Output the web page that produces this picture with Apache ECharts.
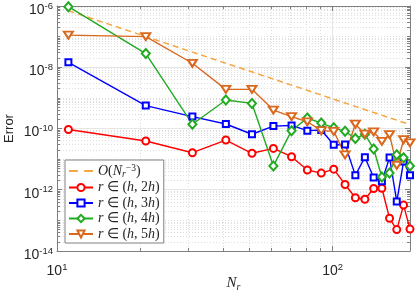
<!DOCTYPE html>
<html><head><meta charset="utf-8">
<script src="https://cdn.jsdelivr.net/npm/echarts@6/dist/echarts.min.js"></script>
<style>html,body{margin:0;padding:0;background:#fff}#c{width:416px;height:291px}</style>
</head><body><div id="c"></div>
<script>
// ---- data ----
const Nr = [11,21,31,41,51,61,71,81,91,101,111,121,131,141,151,161,171,181,191];
const err2h = [9.3e-11,3.9e-11,1.62e-11,4.2e-11,1.55e-11,2.24e-11,1.2e-11,4.4e-12,3.5e-12,4.7e-12,1.48e-12,5.5e-13,4.9e-13,1.1e-12,1.12e-12,1.17e-13,5.0e-14,3.16e-13,5.2e-14];
const err3h = [1.45e-8,5.6e-10,2.45e-10,1.4e-10,6.5e-11,1.2e-10,1.26e-10,8.5e-11,8.9e-11,2.95e-11,3.0e-11,2.95e-12,1.15e-11,2.5e-12,1.9e-12,1.12e-11,4.1e-13,8.3e-12,3.0e-12];
const err4h = [9.5e-7,2.8e-8,1.38e-10,8.5e-10,6.6e-10,6.0e-12,8.5e-11,2.2e-10,1.5e-10,1.05e-10,8.1e-11,4.7e-11,6.5e-11,2.15e-11,2.6e-12,3.55e-12,1.4e-11,1.1e-11,6.0e-12];
const err5h = [1.12e-7,1.0e-7,1.35e-8,1.9e-9,1.9e-9,4.0e-10,2.45e-10,1.66e-10,8.5e-11,8.1e-11,1.38e-11,1.38e-10,6.6e-11,7.8e-11,3.8e-11,6.3e-11,6.3e-12,4.3e-11,3.4e-11];
const refN = [11, 191];
const refErr = [7.0e-7, 1.34e-10];
const xTickLabels = [10, 100];
const yTickLabels = [1e-14, 1e-12, 1e-10, 1e-8, 1e-6];

// ---- tick / grid positions ----
const xMinor = [20,30,40,50,60,70,80,90];
const yMinor = [];
for (let e = -14; e < -6; e++) {
  for (let m = 1; m <= 9; m++) {
    const v = m * Math.pow(10, e);
    if (m === 1 && e % 2 === 0) continue;
    yMinor.push(v);
  }
}

const AX = '#7f7f7f', TXT = '#262626';
const supRich = {
  b: {fontFamily: 'Liberation Sans', fontSize: 14, lineHeight: 18, color: TXT},
  s: {fontFamily: 'Liberation Sans', fontSize: 9.5, lineHeight: 10, verticalAlign: 'top', color: TXT}
};
function powFmt(v) { return '{b|10}{s|' + Math.round(Math.log10(v)) + '}'; }

function xAx(pos, ticks, len, label, line, split) {
  return {
    type: 'log', logBase: 10, min: 10, max: 191, position: pos,
    axisLine: {show: line, lineStyle: {color: AX, width: 1}},
    axisTick: {show: true, inside: true, length: len, customValues: ticks, lineStyle: {color: AX, width: 1}},
    axisLabel: label ? {show: true, customValues: ticks, formatter: powFmt, rich: supRich, margin: 11,
      alignMinLabel: 'center', alignMaxLabel: 'center'} : {show: false},
    splitLine: split ? {show: true, lineStyle: split} : {show: false},
    minorTick: {show: false}, minorSplitLine: {show: false}
  };
}
function yAx(pos, ticks, len, label, line, split) {
  return {
    type: 'log', logBase: 10, min: 1e-14, max: 1e-6, position: pos,
    axisLine: {show: line, lineStyle: {color: AX, width: 1}},
    axisTick: {show: true, inside: true, length: len, customValues: ticks, lineStyle: {color: AX, width: 1}},
    axisLabel: label ? {show: true, customValues: ticks, formatter: powFmt, rich: supRich, margin: 4, padding: [8,0,0,0],
      verticalAlignMinLabel: 'middle', verticalAlignMaxLabel: 'middle'} : {show: false},
    splitLine: split ? {show: true, lineStyle: split} : {show: false},
    minorTick: {show: false}, minorSplitLine: {show: false}
  };
}
const majorGrid = {color: '#e6e6e6', width: 1, type: 'solid'};
const minorGrid = {color: '#dedede', width: 1, type: [1, 2]};

const xAxes = [
  xAx('bottom', xTickLabels, 5, true, true, majorGrid),
  xAx('bottom', xMinor, 3, false, false, minorGrid),
  xAx('top', xTickLabels, 5, false, true, null),
  xAx('top', xMinor, 3, false, false, null)
];
xAxes[0].name = '{i|N}{sub|r}';
xAxes[0].nameLocation = 'middle';
xAxes[0].nameGap = 23;
xAxes[0].nameMoveOverlap = false;
xAxes[0].nameTextStyle = {rich: {
  i: {fontFamily: 'Liberation Serif', fontStyle: 'italic', fontSize: 15, lineHeight: 18, color: TXT},
  sub: {fontFamily: 'Liberation Serif', fontStyle: 'italic', fontSize: 10, lineHeight: 10, verticalAlign: 'bottom', color: TXT}
}};
const yAxes = [
  yAx('left', yTickLabels, 5, true, true, majorGrid),
  yAx('left', yMinor, 3, false, false, minorGrid),
  yAx('right', yTickLabels, 5, false, true, null),
  yAx('right', yMinor, 3, false, false, null)
];
yAxes[0].name = 'Error';
yAxes[0].nameLocation = 'middle';
yAxes[0].nameGap = 41;
yAxes[0].nameMoveOverlap = false;
yAxes[0].nameTextStyle = {fontFamily: 'Liberation Sans', fontSize: 13, color: TXT};

function pts(ys) { return Nr.map((n, i) => [n, ys[i]]); }
function lineSeries(name, ys, color, symbol, size, rot) {
  return {
    name: name, type: 'line', data: pts(ys), xAxisIndex: 0, yAxisIndex: 0,
    symbol: symbol, symbolSize: size, symbolRotate: rot || 0, showAllSymbol: true,
    lineStyle: {color: color, width: 1.4},
    itemStyle: {color: color, borderColor: color, borderWidth: 1.3},
    emphasis: {disabled: true}
  };
}

const serif = 'Liberation Serif';
const legRich = {
  i: {fontFamily: serif, fontStyle: 'italic', fontSize: 14, lineHeight: 16, color: TXT},
  n: {fontFamily: serif, fontSize: 14, lineHeight: 16, color: TXT},
  sub: {fontFamily: serif, fontStyle: 'italic', fontSize: 9.5, lineHeight: 9, verticalAlign: 'bottom', color: TXT},
  sup: {fontFamily: serif, fontSize: 9.5, lineHeight: 9, verticalAlign: 'top', color: TXT}
};
const legText = {
  'ref': '{i|O}{n|(}{i|N}{sub|r}{sup|\u22123}{n|)}',
  'r2': '{i|r}{n| \u2208 (}{i|h}{n|, 2}{i|h}{n|)}',
  'r3': '{i|r}{n| \u2208 (}{i|h}{n|, 3}{i|h}{n|)}',
  'r4': '{i|r}{n| \u2208 (}{i|h}{n|, 4}{i|h}{n|)}',
  'r5': '{i|r}{n| \u2208 (}{i|h}{n|, 5}{i|h}{n|)}'
};

const option = {
  animation: false,
  backgroundColor: '#fff',
  grid: {left: 57, top: 6, right: 6, bottom: 40, containLabel: false, outerBoundsMode: 'none'},
  xAxis: xAxes,
  yAxis: yAxes,
  legend: {
    orient: 'vertical', left: 65, top: 160,
    data: [{name: 'ref', icon: 'path://M0,0h7v1.6h-7zM12,0h7v1.6h-7z'}, 'r2', 'r3', 'r4', 'r5'],
    formatter: n => legText[n],
    textStyle: {rich: legRich},
    itemWidth: 24, itemHeight: 9, itemGap: 1.5,
    padding: [3, 4, 2, 3],
    backgroundColor: '#fff', borderColor: '#808080', borderWidth: 1, borderRadius: 0,
    selectedMode: false
  },
  series: [
    {
      name: 'ref', type: 'line', data: refN.map((n, i) => [n, refErr[i]]),
      xAxisIndex: 0, yAxisIndex: 0, symbol: 'none',
      lineStyle: {color: '#F7A541', width: 1.5, type: [6, 4]},
      itemStyle: {color: '#F7A541'}, emphasis: {disabled: true}
    },
    lineSeries('r2', err2h, '#FF0000', 'emptyCircle', 7),
    lineSeries('r3', err3h, '#0000FF', 'emptyRect', 6),
    lineSeries('r4', err4h, '#22AA22', 'emptyDiamond', [8, 9]),
    lineSeries('r5', err5h, '#D9691E', 'emptyTriangle', [9, 7], 180)
  ]
};
echarts.init(document.getElementById('c'), null, {renderer: 'canvas'}).setOption(option);
</script></body></html>
